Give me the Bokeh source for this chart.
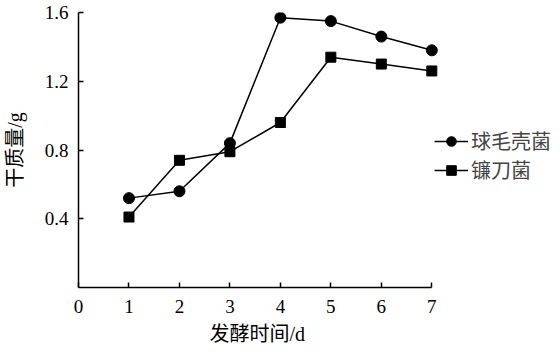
from bokeh.plotting import figure
from bokeh.models import Legend, LegendItem, FixedTicker, Range1d, Title
from bokeh.embed import file_html
from bokeh.resources import INLINE

days = [1, 2, 3, 4, 5, 6, 7]
chaetomium = [0.52, 0.56, 0.84, 1.57, 1.55, 1.46, 1.38]
fusarium = [0.41, 0.74, 0.79, 0.96, 1.34, 1.30, 1.26]
series_names = ["球毛壳菌", "镰刀菌"]
x_ticks = [0, 1, 2, 3, 4, 5, 6, 7]
y_ticks = [0.4, 0.8, 1.2, 1.6]
x_label = "发酵时间/d"
y_label = "干质量/g"

FONT = "Liberation Serif, Noto Sans CJK SC"

# frame spans to the right edge so that the legend sits inside it;
# the x axis itself is bounded to 0..7
p = figure(width=560, height=356, output_backend="svg", toolbar_location=None,
           x_range=Range1d(0, 9.55), y_range=Range1d(0, 1.6),
           min_border_left=77, min_border_right=0, min_border_top=12, min_border_bottom=69)
p.outline_line_color = None
p.grid.visible = False
p.background_fill_color = "white"

r1l = p.line(days, chaetomium, line_color="black", line_width=1.5)
r1s = p.scatter(days, chaetomium, marker="circle", size=11, fill_color="black", line_color="black")
r2l = p.line(days, fusarium, line_color="black", line_width=1.5)
r2s = p.scatter(days, fusarium, marker="square", size=10, fill_color="black", line_color="black")

for ax in (p.xaxis[0], p.yaxis[0]):
    ax.axis_line_color = "black"
    ax.axis_line_width = 1.5
    ax.major_tick_in = 5
    ax.major_tick_out = 0
    ax.major_tick_line_width = 1.5
    ax.minor_tick_line_color = None
    ax.major_label_text_font = FONT
    ax.major_label_text_font_size = "19px"
    ax.major_label_text_color = "black"
    ax.axis_label_text_font = FONT
    ax.axis_label_text_font_size = "20px"
    ax.axis_label_text_font_style = "normal"
    ax.axis_label_text_color = "black"

p.xaxis.ticker = FixedTicker(ticks=x_ticks)
p.yaxis.ticker = FixedTicker(ticks=y_ticks)
p.xaxis.bounds = (0, 7)
p.yaxis.formatter.use_scientific = False
p.xaxis.major_label_standoff = 12
p.yaxis.major_label_standoff = 10
p.yaxis.axis_label = y_label
p.yaxis.axis_label_standoff = 16

# x-axis title placed below the axis, aligned over the 0..7 span
p.add_layout(Title(text=x_label, align="left", offset=131, text_font=FONT,
                   text_font_size="20px", text_font_style="normal",
                   text_color="black", standoff=10), "below")

legend = Legend(items=[LegendItem(label=series_names[0], renderers=[r1l, r1s]),
                       LegendItem(label=series_names[1], renderers=[r2l, r2s])],
                location=(356, 103), orientation="vertical",
                border_line_color=None, background_fill_alpha=0,
                label_text_font=FONT, label_text_font_size="20px",
                glyph_width=34, glyph_height=24, label_standoff=3, spacing=-4,
                padding=0, margin=0)
p.add_layout(legend, "center")

open("out.html", "w").write(file_html(p, INLINE))
